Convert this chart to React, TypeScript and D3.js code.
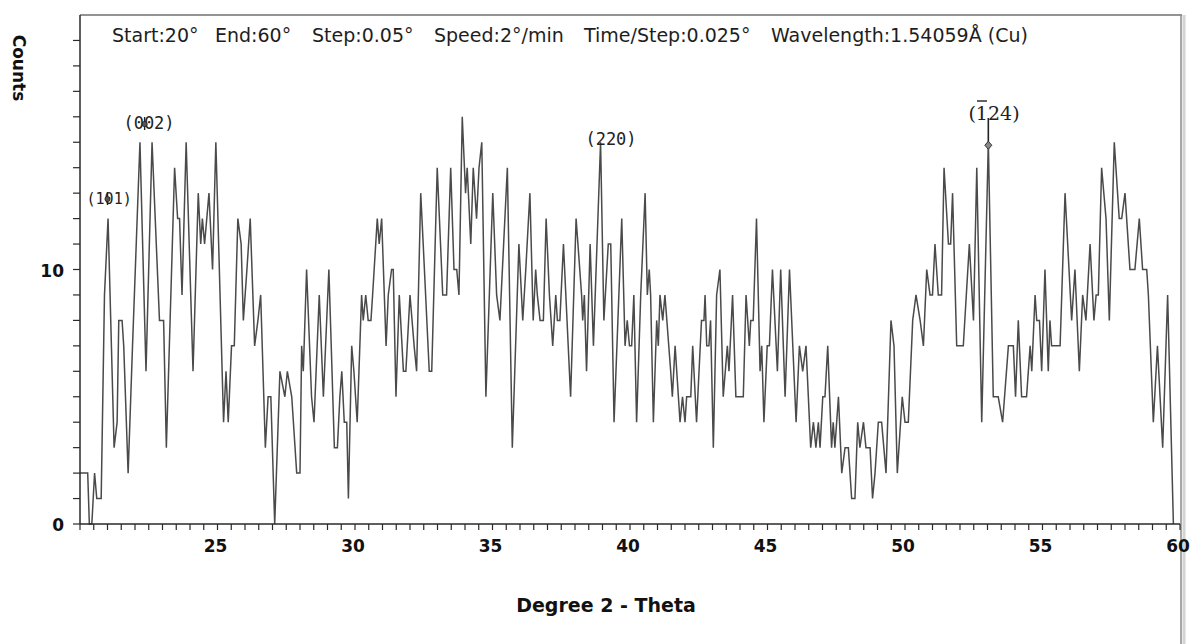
import * as d3 from 'd3'

const W = 1202
const H = 644
const LEFT = 80
const RIGHT = 1180
const TOP = 15
const BOTTOM = 524

// 2-theta (deg) and counts
const twoTheta = [
  20.0, 20.28, 20.34, 20.43, 20.53, 20.61, 20.77, 20.89, 21.02, 21.24, 21.35, 21.41, 21.53, 21.59, 21.75, 21.91,
  22.18, 22.4, 22.62, 22.89, 23.04, 23.14, 23.44, 23.55, 23.62, 23.71, 23.86, 24.11, 24.3, 24.39, 24.45, 24.53,
  24.69, 24.82, 24.94, 25.22, 25.31, 25.39, 25.51, 25.61, 25.74, 25.86, 25.94, 26.07, 26.19, 26.35, 26.47, 26.57,
  26.74, 26.84, 26.94, 27.08, 27.27, 27.45, 27.54, 27.7, 27.88, 28.0,
  28.06, 28.12, 28.24, 28.42, 28.51, 28.7, 28.85, 29.05, 29.25, 29.36, 29.45, 29.52, 29.61, 29.7, 29.76, 29.88,
  29.96, 30.08, 30.24, 30.3, 30.39, 30.48, 30.58, 30.64, 30.81, 30.88, 30.97, 31.13, 31.21, 31.33, 31.39, 31.49,
  31.61, 31.76, 31.85, 32.0, 32.15, 32.24, 32.39, 32.48, 32.7, 32.79, 32.99, 33.19, 33.33, 33.48, 33.6, 33.7,
  33.78, 33.9, 34.02, 34.08, 34.21, 34.3, 34.42, 34.51, 34.61, 34.76, 35.01, 35.15, 35.27, 35.54, 35.72, 35.96,
  36.1, 36.21, 36.36, 36.48, 36.57, 36.63, 36.73, 36.85, 36.95,
  37.07, 37.13, 37.19, 37.3, 37.36, 37.45, 37.58, 37.84, 38.04, 38.24, 38.28, 38.34, 38.42, 38.55, 38.67, 38.93,
  39.05, 39.21, 39.3, 39.42, 39.7, 39.82, 39.9, 39.98, 40.06, 40.14, 40.24, 40.39, 40.55, 40.63, 40.7, 40.75,
  40.85, 40.97, 41.03, 41.09, 41.19, 41.27, 41.48, 41.54, 41.64, 41.82, 41.91, 42.0, 42.06, 42.21, 42.28, 42.42,
  42.6, 42.69, 42.73, 42.79, 42.87, 42.93, 43.03, 43.15, 43.27, 43.39, 43.54, 43.6, 43.73, 43.85, 44.12, 44.22,
  44.34, 44.39, 44.48, 44.6, 44.73, 44.79, 44.87, 44.99, 45.07, 45.18, 45.36, 45.48, 45.64, 45.8,
  46.04, 46.16, 46.28, 46.4, 46.57, 46.67, 46.76, 46.85, 46.91, 47.01, 47.09, 47.19, 47.33, 47.39, 47.45, 47.58,
  47.7, 47.82, 47.94, 48.0, 48.06, 48.18, 48.28, 48.36, 48.49, 48.58, 48.73, 48.82, 48.91, 49.03, 49.15, 49.31,
  49.49, 49.6, 49.72, 49.9, 50.0, 50.12, 50.28, 50.4, 50.55, 50.67, 50.79, 50.91, 51.0, 51.09, 51.21, 51.33,
  51.42, 51.58, 51.66, 51.73, 51.88, 52.12, 52.34, 52.49, 52.61, 52.79, 53.03, 53.21, 53.39, 53.55, 53.76, 53.94,
  54.02, 54.12, 54.24, 54.42,
  54.55, 54.61, 54.73, 54.79, 54.89, 54.97, 55.09, 55.21, 55.27, 55.33, 55.64, 55.82, 56.06, 56.18, 56.34, 56.46,
  56.58, 56.73, 56.87, 56.95, 57.03, 57.15, 57.31, 57.43, 57.61, 57.79, 57.88, 58.0, 58.18, 58.36, 58.52, 58.64,
  58.79, 58.85, 59.03, 59.18, 59.37, 59.55, 59.76,
]
const counts = [
  2, 2, 0, 0, 2, 1, 1, 9, 12, 3, 4, 8, 8, 7, 2, 7,
  15, 6, 15, 8, 8, 3, 14, 12, 12, 9, 15, 6, 13, 11, 12, 11,
  13, 10, 15, 4, 6, 4, 7, 7, 12, 11, 8, 10, 12, 7, 8, 9,
  3, 5, 5, 0, 6, 5, 6, 5, 2, 2,
  7, 6, 10, 5, 4, 9, 5, 10, 3, 3, 5, 6, 4, 4, 1, 7,
  6, 4, 9, 8, 9, 8, 8, 9, 12, 11, 12, 7, 9, 10, 10, 5,
  9, 6, 6, 9, 7, 6, 13, 11, 6, 6, 14, 9, 9, 14, 10, 10,
  9, 16, 13, 14, 11, 14, 12, 14, 15, 5, 13, 9, 8, 14, 3, 11,
  8, 10, 13, 8, 10, 9, 8, 8, 12,
  9, 8, 7, 9, 8, 8, 11, 5, 12, 9, 8, 9, 6, 11, 7, 15,
  8, 11, 11, 4, 12, 7, 8, 7, 7, 9, 4, 9, 13, 9, 10, 9,
  4, 8, 7, 9, 8, 9, 6, 5, 7, 4, 5, 4, 5, 5, 7, 4,
  8, 8, 9, 7, 7, 8, 3, 9, 10, 5, 7, 6, 9, 5, 5, 9,
  7, 8, 8, 12, 6, 7, 4, 7, 7, 10, 6, 10, 5, 10,
  4, 7, 6, 7, 3, 4, 3, 4, 3, 5, 5, 7, 3, 4, 3, 5,
  2, 3, 3, 2, 1, 1, 4, 3, 4, 3, 3, 1, 2, 4, 4, 2,
  8, 7, 2, 5, 4, 4, 8, 9, 8, 7, 10, 9, 9, 11, 9, 9,
  14, 11, 11, 13, 7, 7, 11, 8, 14, 4, 15, 5, 5, 4, 7, 7,
  5, 8, 5, 5,
  7, 6, 9, 8, 8, 6, 10, 6, 8, 7, 7, 13, 8, 10, 6, 9,
  8, 11, 8, 9, 9, 14, 12, 8, 15, 12, 12, 13, 10, 10, 12, 10,
  10, 9, 4, 7, 3, 9, 0,
]

const xTickLabels = [25, 30, 35, 40, 45, 50, 55, 60]
const yTickLabels = [0, 10]

// hkl labels and the 2-theta they sit over
const peakLabels = [
  { hkl: '(101)', at: 20.95, mark: 21.0 },
  { hkl: '(002)', at: 22.4, mark: 22.35 },
  { hkl: '(220)', at: 39.2, mark: null },
]
const headerParts = ['Start:20°', 'End:60°', 'Step:0.05°', 'Speed:2°/min', 'Time/Step:0.025°', 'Wavelength:1.54059Å (Cu)']
const headerX = [112, 215, 312, 434, 584, 771]

export default function App() {
  const x = d3.scaleLinear().domain([20, 60]).range([LEFT, RIGHT])
  const y = d3.scaleLinear().domain([0, 20]).range([BOTTOM, TOP])

  const pts: [number, number][] = twoTheta.map((t, i) => [t, counts[i]])
  const line = d3
    .line<[number, number]>()
    .x((d) => x(d[0]))
    .y((d) => y(d[1]))

  const minorX = d3.range(20, 60.001, 0.5)
  const minorY = d3.range(0, 20, 1)

  const labelY = [204, 129, 145]
  const labelSize = [15, 17, 17]

  const peak124 = 53.03
  const peak124Count = 15

  return (
    <>
      <style>{`body{margin:0}`}</style>
      <svg width={W} height={H} style={{ display: 'block', background: '#fff' }}>
        {/* frame */}
        <line x1={LEFT} x2={RIGHT + 2} y1={TOP} y2={TOP} stroke="#6f6f6f" strokeWidth={1.5} />
        <line x1={RIGHT + 4} x2={RIGHT + 4} y1={TOP} y2={H} stroke="#d4d4d4" strokeWidth={3} />
        <line x1={RIGHT + 1} x2={RIGHT + 1} y1={TOP} y2={H} stroke="#8a8a8a" strokeWidth={1.5} />

        {/* header */}
        <text y={42} fontFamily="DejaVu Sans" fontSize={19} fill="#1e1e1e">
          {headerParts.map((p, i) => (
            <tspan key={i} x={headerX[i]}>
              {p}
            </tspan>
          ))}
        </text>

        {/* data */}
        <path d={line(pts) ?? ''} fill="none" stroke="#4a4a4a" strokeWidth={1.5} strokeLinejoin="miter" />

        {/* axes */}
        <line x1={LEFT} x2={LEFT} y1={TOP} y2={BOTTOM} stroke="#2a2a2a" strokeWidth={1.5} />
        <line x1={LEFT} x2={RIGHT} y1={BOTTOM} y2={BOTTOM} stroke="#2a2a2a" strokeWidth={1.5} />
        {minorY.map((v) => (
          <line key={v} x1={LEFT - 7} x2={LEFT} y1={y(v)} y2={y(v)} stroke="#2a2a2a" strokeWidth={1.2} />
        ))}
        {minorX.map((v) => (
          <line key={v} x1={x(v)} x2={x(v)} y1={BOTTOM} y2={BOTTOM + 6} stroke="#2a2a2a" strokeWidth={1.2} />
        ))}
        {yTickLabels.map((v) => (
          <text
            key={v}
            x={LEFT - 16}
            y={y(v) + 7}
            textAnchor="end"
            fontFamily="DejaVu Sans"
            fontWeight="bold"
            fontSize={17}
            fill="#111"
          >
            {v}
          </text>
        ))}
        {xTickLabels.map((v) => (
          <text
            key={v}
            x={x(v) - 2}
            y={552}
            textAnchor="middle"
            fontFamily="DejaVu Sans"
            fontWeight="bold"
            fontSize={17}
            fill="#111"
          >
            {v}
          </text>
        ))}

        <text
          transform="translate(13,68) rotate(90)"
          textAnchor="middle"
          fontFamily="DejaVu Sans"
          fontWeight="bold"
          fontSize={17}
          fill="#111"
        >
          Counts
        </text>
        <text x={606} y={612} textAnchor="middle" fontFamily="DejaVu Sans" fontWeight="bold" fontSize={19} fill="#111">
          Degree 2 - Theta
        </text>

        {/* peak labels */}
        {peakLabels.map((p, i) => (
          <g key={p.hkl}>
            <text
              x={x(p.at) + 3}
              y={labelY[i]}
              textAnchor="middle"
              fontFamily="DejaVu Sans Mono"
              fontSize={labelSize[i]}
              fill="#222"
            >
              {p.hkl}
            </text>
            {p.mark !== null && (
              <g>
                <line x1={x(p.mark)} x2={x(p.mark)} y1={labelY[i] - 12} y2={labelY[i] + 1} stroke="#222" strokeWidth={1.4} />
                <circle cx={x(p.mark)} cy={labelY[i] - 5} r={2.6} fill="#555" stroke="#222" strokeWidth={0.8} />
              </g>
            )}
          </g>
        ))}

        {/* (-124) */}
        <text x={994} y={120} textAnchor="middle" fontFamily="DejaVu Serif" fontSize={19} fill="#222">
          (124)
        </text>
        <line x1={977} x2={987} y1={101} y2={101} stroke="#222" strokeWidth={1.4} />
        <line x1={x(peak124)} x2={x(peak124)} y1={118} y2={y(peak124Count)} stroke="#222" strokeWidth={1.6} />
        <path
          d={`M${x(peak124)},${y(peak124Count) - 1}l3.5,4l-3.5,4l-3.5,-4z`}
          fill="#888"
          stroke="#333"
          strokeWidth={1}
        />
      </svg>
    </>
  )
}
